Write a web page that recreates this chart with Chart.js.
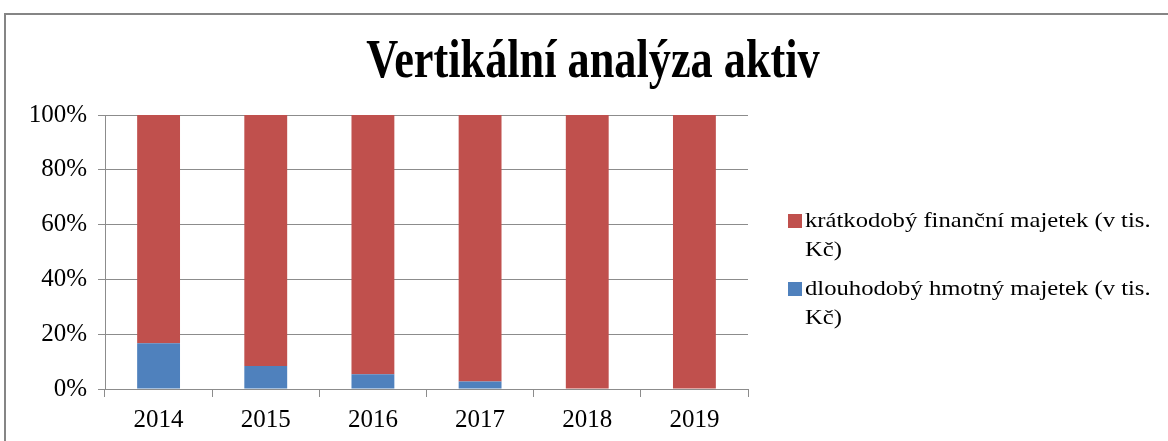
<!DOCTYPE html>
<html>
<head>
<meta charset="utf-8">
<script src="https://cdn.jsdelivr.net/npm/chart.js@4.4.1/dist/chart.umd.min.js"></script>
<style>
  html, body { margin: 0; padding: 0; background: #ffffff; }
  #wrap { width: 1168px; height: 441px; position: relative; }
</style>
</head>
<body>
<div id="wrap"><canvas id="c" width="1168" height="441"></canvas></div>
<script>
const chartTitle = 'Vertikální analýza aktiv';
const categories = ['2014', '2015', '2016', '2017', '2018', '2019'];
const labelDlouhodoby = 'dlouhodobý hmotný majetek (v tis. Kč)';
const labelKratkodoby = 'krátkodobý finanční majetek (v tis. Kč)';
const dlouhodoby = [16.7, 8.4, 5.4, 2.7, 0, 0];
const kratkodoby = [83.3, 91.6, 94.6, 97.3, 100, 100];
const yTickValues = [0, 20, 40, 60, 80, 100];

const FONT = "'Liberation Serif', 'Times New Roman', serif";
const GRID = '#8c8c8c';

const framePlugin = {
  id: 'frame',
  beforeDraw(chart) {
    const ctx = chart.ctx;
    ctx.save();
    ctx.fillStyle = '#ffffff';
    ctx.fillRect(0, 0, chart.width, chart.height);
    ctx.strokeStyle = '#858585';
    ctx.lineWidth = 2;
    ctx.strokeRect(5, 14, 1300, 600);
    ctx.restore();
  },
  afterDraw(chart) {
    const ctx = chart.ctx;
    // title (condensed like the reference)
    ctx.save();
    ctx.fillStyle = '#000000';
    ctx.font = "bold 54px " + FONT;
    ctx.textAlign = 'center';
    ctx.textBaseline = 'alphabetic';
    ctx.translate(593, 77);
    ctx.scale(0.82, 1);
    ctx.fillText(chartTitle, 0, 0);
    ctx.restore();
    // legend (reversed order, wrapped, slightly widened text)
    ctx.save();
    ctx.font = "22px " + FONT;
    ctx.textAlign = 'left';
    ctx.textBaseline = 'middle';
    const sx = 1.12;
    const maxW = 330;
    let y = 221;
    const items = chart.data.datasets.slice().reverse();
    items.forEach(ds => {
      const words = ds.label.split(' ');
      const lines = [];
      let cur = '';
      words.forEach(w => {
        const t = cur ? cur + ' ' + w : w;
        if (ctx.measureText(t).width > maxW && cur) { lines.push(cur); cur = w; }
        else cur = t;
      });
      if (cur) lines.push(cur);
      ctx.fillStyle = ds.backgroundColor;
      ctx.fillRect(788, y - 7, 14, 14);
      ctx.fillStyle = '#000000';
      lines.forEach((ln, i) => {
        ctx.save();
        ctx.translate(805, y + i * 29);
        ctx.scale(sx, 1);
        ctx.fillText(ln, 0, 0);
        ctx.restore();
      });
      y += lines.length * 29 + 10;
    });
    ctx.restore();
  }
};

new Chart(document.getElementById('c'), {
  type: 'bar',
  data: {
    labels: categories,
    datasets: [
      { label: labelDlouhodoby, data: dlouhodoby, backgroundColor: '#4F81BD', categoryPercentage: 1, barPercentage: 0.4 },
      { label: labelKratkodoby, data: kratkodoby, backgroundColor: '#C0504D', categoryPercentage: 1, barPercentage: 0.4 }
    ]
  },
  options: {
    responsive: false,
    animation: false,
    layout: { padding: { left: 4, top: 115, right: 420, bottom: 0 } },
    plugins: {
      legend: { display: false },
      title: { display: false },
      tooltip: { enabled: false }
    },
    scales: {
      x: {
        stacked: true,
        afterFit(s) { s.height = 52; },
        grid: { display: true, drawOnChartArea: false, drawTicks: true, tickLength: 8, color: GRID, offset: true },
        border: { display: true, color: GRID },
        ticks: { color: '#000000', font: { family: FONT, size: 25 }, padding: 8 }
      },
      y: {
        stacked: true,
        min: 0,
        max: 100,
        afterFit(s) { s.width = 101; },
        afterBuildTicks(s) { s.ticks = yTickValues.map(v => ({ value: v })); },
        grid: { color: GRID, tickLength: 7 },
        border: { display: true, color: GRID },
        ticks: { color: '#000000', font: { family: FONT, size: 25 }, padding: 11, callback: v => v + '%' }
      }
    }
  },
  plugins: [framePlugin]
});
</script>
</body>
</html>
